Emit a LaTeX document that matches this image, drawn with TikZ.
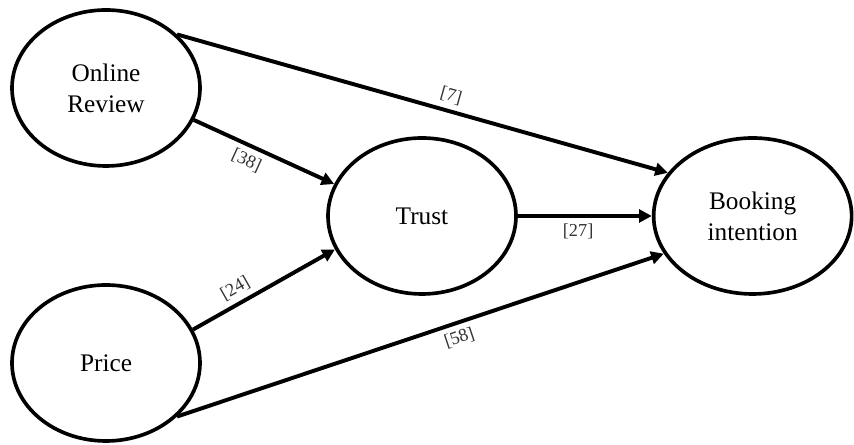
\documentclass[tikz,border=0pt]{standalone}
\usepackage{fontspec}
\setmainfont{Liberation Serif}
\usetikzlibrary{shapes.geometric, arrows.meta, positioning}

\begin{document}
\begin{tikzpicture}[>={Triangle[length=9pt,width=9pt]},
    construct/.style={ellipse, draw=black, line width=2.6pt, minimum width=4.7cm, minimum height=3.9cm, align=center, font=\fontsize{18}{22}\selectfont},
    effect/.style={->, line width=2.8pt},
    coef/.style={font=\fontsize{13}{15}\selectfont, text=black!80, sloped, inner sep=4pt}]
    \useasboundingbox (0,0) rectangle (21.35,11.125);

    \node [construct] (review) at (2.65,8.925) {Online\\Review};
    \node [construct] (price) at (2.65,2.05) {Price};
    \node [construct] (trust) at (10.55,5.725) {Trust};
    \node [construct, minimum width=4.95cm, right=3.35cm of trust] (booking) {Booking\\intention};

    \draw[effect] (review.37) -- node[coef, pos=0.55, above] {[7]} (booking.153);
    \draw[effect] (review.-20) -- node[coef, pos=0.42, below] {[38]} (trust.160);
    \draw[effect] (price.21) -- node[coef, pos=0.35, above] {[24]} (trust.201);
    \draw[effect] (price.-37) -- node[coef, pos=0.57, below] {[58]} (booking.203);
    \draw[effect] (trust) -- node[coef, pos=0.45, below] {[27]} (booking);
\end{tikzpicture}
\end{document}
